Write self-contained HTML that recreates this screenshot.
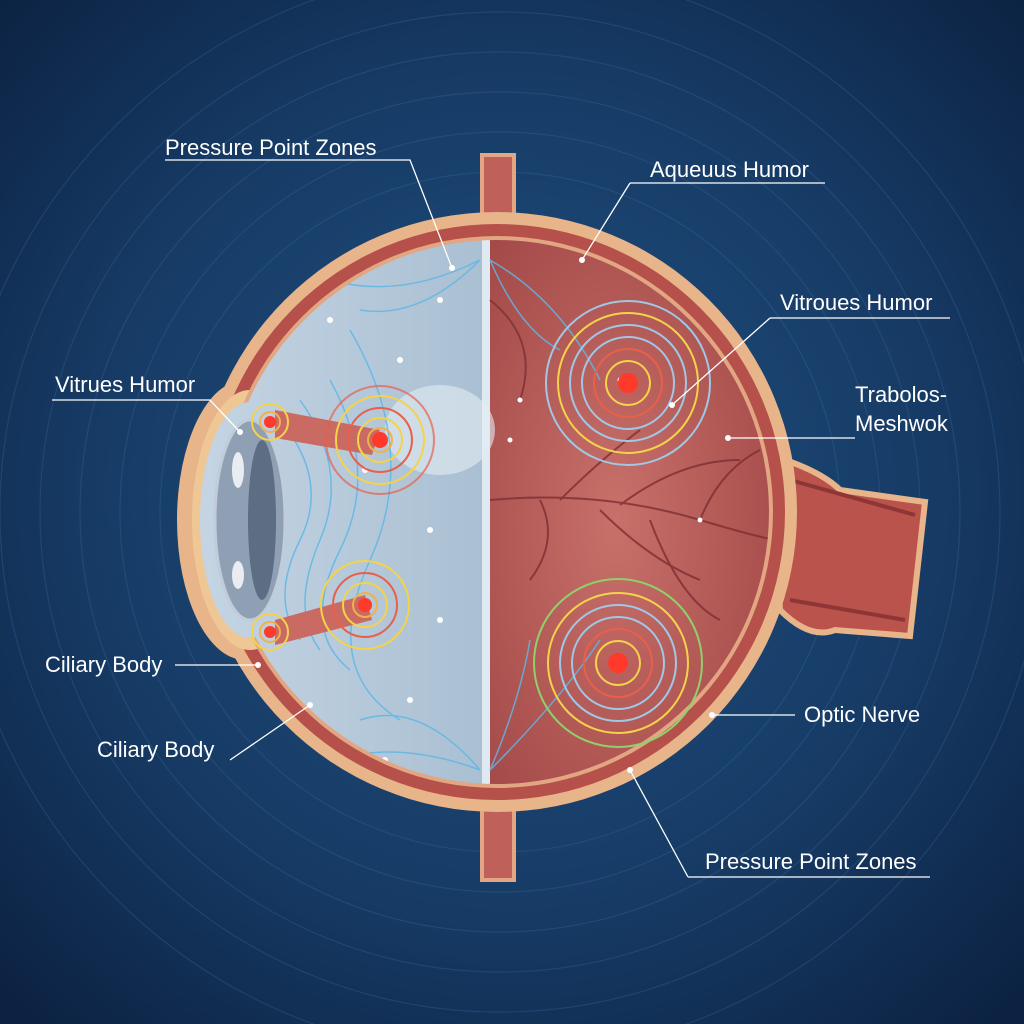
<!DOCTYPE html>
<html><head><meta charset="utf-8"><style>
html,body{margin:0;padding:0;background:#112a4d}
svg{display:block}
text{font-family:"Liberation Sans",sans-serif;fill:#fff;font-size:22px}
</style></head><body>
<svg width="1024" height="1024" viewBox="0 0 1024 1024" xmlns="http://www.w3.org/2000/svg">
<defs>
<radialGradient id="bg" cx="50%" cy="48%" r="70%">
<stop offset="0" stop-color="#225282"/><stop offset="0.6" stop-color="#163a64"/><stop offset="1" stop-color="#0c2242"/>
</radialGradient>
<linearGradient id="vit" x1="0" y1="0" x2="1" y2="0">
<stop offset="0" stop-color="#c9d8e6"/><stop offset="1" stop-color="#a9bfd2"/>
</linearGradient>
<radialGradient id="red" cx="40%" cy="50%" r="70%">
<stop offset="0" stop-color="#c8706a"/><stop offset="1" stop-color="#9c4242"/>
</radialGradient>
<clipPath id="eyeclip"><circle cx="497" cy="512" r="272"/><ellipse cx="250" cy="520" rx="50" ry="118"/></clipPath>
</defs>
<rect width="1024" height="1024" fill="url(#bg)"/>
<g fill="none" stroke="#3f6d9e" stroke-opacity="0.3" stroke-width="1.2">
<circle cx="500" cy="512" r="340"/><circle cx="500" cy="512" r="380"/><circle cx="500" cy="512" r="420"/><circle cx="500" cy="512" r="460"/><circle cx="500" cy="512" r="500"/><circle cx="500" cy="512" r="545"/>
</g>
<rect x="482" y="155" width="32" height="80" fill="#c0605a" stroke="#e3a685" stroke-width="4"/>
<rect x="482" y="790" width="32" height="90" fill="#c0605a" stroke="#e3a685" stroke-width="4"/>
<path d="M770 455 Q820 470 840 490 L925 502 L910 636 L835 630 Q810 640 780 610 Z" fill="#b9534c" stroke="#e8b48a" stroke-width="6"/>
<path d="M790 480 L915 515 M790 600 L905 620" stroke="#8e3535" stroke-width="4"/>
<circle cx="497" cy="512" r="300" fill="#e8b48a"/>
<ellipse cx="245" cy="520" rx="68" ry="140" fill="#e8b48a"/>
<circle cx="497" cy="512" r="288" fill="#b5514a"/>
<ellipse cx="250" cy="520" rx="58" ry="130" fill="#efc795"/>
<circle cx="497" cy="512" r="276" fill="#e2a683"/>
<g clip-path="url(#eyeclip)">
<rect x="150" y="200" width="338" height="640" fill="url(#vit)"/>
<rect x="488" y="200" width="320" height="640" fill="url(#red)"/>
<rect x="482" y="200" width="8" height="640" fill="#dfe9f2"/>
<ellipse cx="440" cy="430" rx="55" ry="45" fill="#e3ecf4" opacity="0.6"/>
<g stroke="#7e2f33" stroke-width="2" fill="none" opacity="0.8">
<path d="M490 500 Q600 490 700 520 T800 540"/><path d="M560 500 Q600 460 640 430"/><path d="M620 505 Q680 460 740 460"/><path d="M600 510 Q650 560 700 580"/><path d="M540 500 Q560 540 530 580"/><path d="M700 520 Q720 470 760 450"/><path d="M650 520 Q680 600 720 620"/><path d="M490 300 Q540 340 520 400"/>
</g>
<g stroke="#5fb7e6" stroke-width="1.5" fill="none" opacity="0.85">
<path d="M280 420 Q330 480 300 540 T300 640"/><path d="M300 400 Q350 470 320 540 T320 650"/><path d="M330 380 Q380 470 340 550 T350 670"/><path d="M350 330 Q420 450 370 560 T400 720"/>
<path d="M480 260 Q400 300 330 280"/><path d="M480 260 Q420 320 360 310"/><path d="M480 770 Q400 740 330 760"/><path d="M480 770 Q420 700 360 720"/>
<path d="M490 260 Q560 300 600 380"/><path d="M490 260 Q520 330 560 350"/><path d="M490 770 Q560 700 600 640"/><path d="M490 770 Q520 700 530 640"/>
</g>
<g fill="#fff">
<circle cx="330" cy="320" r="3"/><circle cx="400" cy="360" r="3"/><circle cx="365" cy="470" r="3"/><circle cx="430" cy="530" r="3"/><circle cx="440" cy="620" r="3"/><circle cx="410" cy="700" r="3"/><circle cx="385" cy="760" r="3"/><circle cx="520" cy="400" r="2.5"/><circle cx="510" cy="440" r="2.5"/><circle cx="700" cy="520" r="2.5"/><circle cx="620" cy="380" r="2.5"/><circle cx="440" cy="300" r="3"/>
</g>
</g>
<ellipse cx="250" cy="520" rx="35" ry="100" fill="#8f9fb4" stroke="#c0ccda" stroke-width="3"/>
<ellipse cx="262" cy="520" rx="14" ry="80" fill="#5d6d84"/>
<ellipse cx="238" cy="470" rx="6" ry="18" fill="#fff" opacity="0.8"/>
<ellipse cx="238" cy="575" rx="6" ry="14" fill="#fff" opacity="0.8"/>
<path d="M275 410 L380 430 L372 455 L275 438 Z" fill="#c96a63"/>
<path d="M275 620 L365 595 L372 620 L275 645 Z" fill="#c96a63"/>
<g fill="none" stroke-width="2">
<g transform="translate(380,440)"><circle r="12" stroke="#f0b04a"/><circle r="22" stroke="#f4d24a"/><circle r="32" stroke="#e8604a"/><circle r="44" stroke="#f4d24a"/><circle r="54" stroke="#e8604a" opacity="0.7"/></g>
<g transform="translate(365,605)"><circle r="12" stroke="#f0b04a"/><circle r="22" stroke="#f4d24a"/><circle r="32" stroke="#e8604a"/><circle r="44" stroke="#f4d24a"/></g>
<g transform="translate(270,422)"><circle r="10" stroke="#f0b04a"/><circle r="18" stroke="#f4d24a"/></g>
<g transform="translate(270,632)"><circle r="10" stroke="#f0b04a"/><circle r="18" stroke="#f4d24a"/></g>
<g transform="translate(628,383)"><circle r="22" stroke="#f4d24a"/><circle r="34" stroke="#e8604a"/><circle r="46" stroke="#9fc8e6"/><circle r="58" stroke="#9fc8e6"/><circle r="70" stroke="#f4d24a"/><circle r="82" stroke="#9fc8e6"/></g>
<g transform="translate(618,663)"><circle r="22" stroke="#f4d24a"/><circle r="34" stroke="#e8604a"/><circle r="46" stroke="#9fc8e6"/><circle r="58" stroke="#9fc8e6"/><circle r="70" stroke="#f4d24a"/><circle r="84" stroke="#8fd06a"/></g>
</g>
<g fill="#ff3a2a"><circle cx="380" cy="440" r="8"/><circle cx="365" cy="605" r="7"/><circle cx="270" cy="422" r="6"/><circle cx="270" cy="632" r="6"/><circle cx="628" cy="383" r="10"/><circle cx="618" cy="663" r="10"/></g>
<g stroke="#fff" stroke-width="1.3" fill="none">
<path d="M165 160 L410 160 L452 268"/><path d="M630 183 L825 183 M630 183 L582 260"/>
<path d="M770 318 L950 318 M770 318 L672 405"/><path d="M855 438 L728 438"/>
<path d="M52 400 L210 400 L240 432"/><path d="M175 665 L258 665"/>
<path d="M230 760 L310 705"/><path d="M712 715 L795 715"/>
<path d="M688 877 L930 877 M688 877 L630 770"/>
</g>
<g fill="#fff"><circle cx="452" cy="268" r="3"/><circle cx="582" cy="260" r="3"/><circle cx="672" cy="405" r="3"/><circle cx="728" cy="438" r="3"/><circle cx="240" cy="432" r="3"/><circle cx="258" cy="665" r="3"/><circle cx="310" cy="705" r="3"/><circle cx="712" cy="715" r="3"/><circle cx="630" cy="770" r="3"/></g>
<text x="165" y="155">Pressure Point Zones</text>
<text x="650" y="177">Aqueuus Humor</text>
<text x="780" y="310">Vitroues Humor</text>
<text x="855" y="402">Trabolos-</text>
<text x="855" y="431">Meshwok</text>
<text x="55" y="392">Vitrues Humor</text>
<text x="45" y="672">Ciliary Body</text>
<text x="97" y="757">Ciliary Body</text>
<text x="804" y="722">Optic Nerve</text>
<text x="705" y="869">Pressure Point Zones</text>
</svg>
</body></html>
